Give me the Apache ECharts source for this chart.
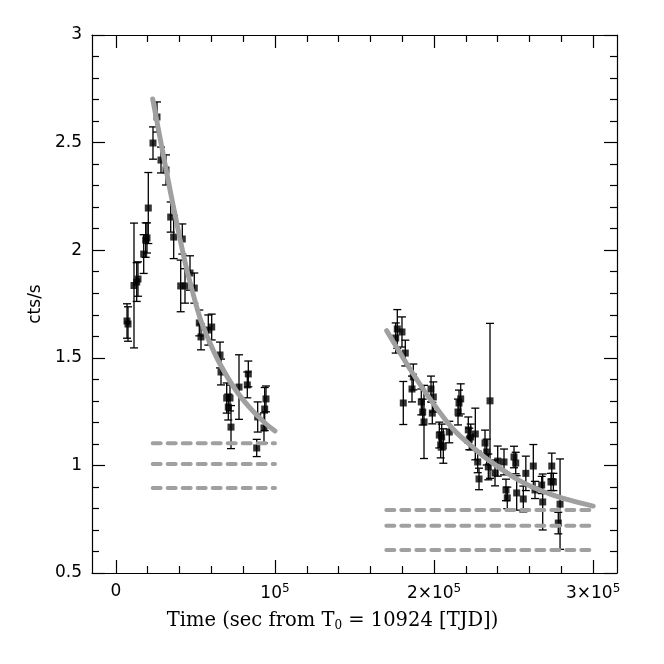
<!DOCTYPE html>
<html>
<head>
<meta charset="utf-8">
<script src="https://cdn.jsdelivr.net/npm/echarts@6/dist/echarts.min.js"></script>
<style>
html,body{margin:0;padding:0;background:#fff;}
#chart{width:664px;height:664px;}
</style>
</head>
<body>
<div id="chart"></div>
<script>
// Observed light-curve points: time (s from T0), rate (cts/s), 1-sigma error
const obsTime = [7000, 7630, 11400, 13100, 13900, 17500, 18750, 19570, 20390, 23340, 25860, 28370, 31510, 34470, 36350, 41760, 40750, 43460, 46600, 49300, 52450, 53510, 58100, 60240, 65460, 66090, 69670, 71740, 70670, 72370, 77400, 83250, 82620, 89150, 88530, 93110, 93550, 94370,
  175900, 176900, 179850, 180670, 181930, 186140, 186960, 191990, 192870, 193690, 198090, 199540, 198910, 203310, 204820, 204180, 205820, 209590, 215690, 216760, 215060, 221540, 223050, 222170, 225940, 235180, 232040, 233110, 227450, 228270, 234110, 238320, 240020, 243980, 250270, 251340, 245230, 246040, 251950, 256100, 257700, 262400, 263460, 267670, 268300, 274000, 273500, 275000, 279200, 278100];
const obsRate = [1.671, 1.657, 1.836, 1.852, 1.866, 1.982, 2.047, 2.057, 2.196, 2.498, 2.619, 2.419, 2.373, 2.154, 2.061, 2.052, 1.834, 1.834, 1.894, 1.824, 1.662, 1.597, 1.629, 1.643, 1.513, 1.434, 1.313, 1.313, 1.271, 1.178, 1.364, 1.425, 1.374, 1.225, 1.081, 1.174, 1.262, 1.309,
  1.592, 1.634, 1.620, 1.290, 1.522, 1.355, 1.411, 1.295, 1.248, 1.202, 1.355, 1.318, 1.243, 1.141, 1.132, 1.095, 1.090, 1.155, 1.290, 1.309, 1.248, 1.165, 1.132, 1.123, 1.146, 1.300, 1.104, 1.062, 1.016, 0.937, 0.993, 0.965, 1.020, 1.016, 1.039, 1.011, 0.886, 0.849, 0.872, 0.844, 0.963, 0.997, 0.886, 0.909, 0.830, 0.997, 0.923, 0.923, 0.820, 0.732];
const obsErr = [0.08, 0.08, 0.29, 0.09, 0.08, 0.09, 0.08, 0.07, 0.165, 0.075, 0.07, 0.06, 0.07, 0.07, 0.10, 0.07, 0.12, 0.08, 0.08, 0.07, 0.06, 0.06, 0.07, 0.06, 0.06, 0.06, 0.07, 0.06, 0.06, 0.10, 0.15, 0.06, 0.06, 0.07, 0.04, 0.07, 0.10, 0.06,
  0.07, 0.09, 0.07, 0.10, 0.06, 0.06, 0.06, 0.06, 0.06, 0.17, 0.06, 0.07, 0.05, 0.06, 0.06, 0.06, 0.08, 0.05, 0.06, 0.07, 0.06, 0.06, 0.06, 0.05, 0.12, 0.36, 0.06, 0.06, 0.05, 0.05, 0.06, 0.06, 0.07, 0.06, 0.05, 0.05, 0.05, 0.05, 0.08, 0.06, 0.08, 0.10, 0.04, 0.04, 0.13, 0.06, 0.04, 0.04, 0.21, 0.05];

// Fitted decay curves
const fit1Time = [23150, 27740, 34030, 40310, 44900, 52890, 59170, 65460, 74890, 84310, 93740, 100000];
const fit1Rate = [2.703, 2.523, 2.281, 2.053, 1.901, 1.685, 1.569, 1.471, 1.355, 1.267, 1.197, 1.160];
const fit2Time = [170240, 184890, 197460, 211910, 225740, 235170, 254030, 274770, 300000];
const fit2Rate = [1.626, 1.448, 1.309, 1.169, 1.076, 1.020, 0.928, 0.862, 0.811];

// Background levels (dashed)
const bg1Levels = [1.103, 1.006, 0.895];
const bg1Span = [23150, 100000];
const bg2Levels = [0.793, 0.720, 0.607];
const bg2Span = [170000, 300000];

// Axis ticks
const xMajorTicks = [0, 100000, 200000, 300000];
const xMinorTicks = [20000, 40000, 60000, 80000, 120000, 140000, 160000, 180000, 220000, 240000, 260000, 280000];

const X_MIN = -15000, X_MAX = 315000;
const GRAY = '#a0a0a0';

const chart = echarts.init(document.getElementById('chart'), null, {renderer: 'canvas'});

function xAxisCfg(position, ticks, len, showLine, labels) {
  return {
    type: 'value', min: X_MIN, max: X_MAX, position: position,
    axisLine: {show: showLine, onZero: false, lineStyle: {color: '#000', width: 1.2}},
    axisTick: {show: true, inside: true, length: len, customValues: ticks, lineStyle: {color: '#000', width: 1.2}},
    axisLabel: labels ? {
      show: true, customValues: xMajorTicks, margin: 10, color: '#000',
      fontFamily: 'DejaVu Sans', fontSize: 17,
      formatter: function (v) {
        if (v === 0) return '0';
        if (v === 100000) return '10{sup|5}';
        return (v / 100000) + '×10{sup|5}';
      },
      rich: {sup: {fontFamily: 'DejaVu Sans', fontSize: 12, color: '#000', padding: [0, 0, 9, 0]}}
    } : {show: false},
    splitLine: {show: false}
  };
}
function yAxisCfg(position, labels) {
  return {
    type: 'value', min: 0.5, max: 3, interval: 0.5, position: position,
    axisLine: {show: true, onZero: false, lineStyle: {color: '#000', width: 1.2}},
    axisTick: {show: true, inside: true, length: 13, lineStyle: {color: '#000', width: 1.2}},
    minorTick: {show: true, splitNumber: 5, length: 7, lineStyle: {color: '#000', width: 1.2}},
    axisLabel: labels ? {show: true, margin: 10, color: '#000', fontFamily: 'DejaVu Sans', fontSize: 17,
      formatter: function (v) { return String(v); }} : {show: false},
    splitLine: {show: false}
  };
}

const xAxes = [
  Object.assign(xAxisCfg('bottom', xMajorTicks, 13, true, true), {
    name: 'Time (sec from T{sub|0} = 10924 [TJD])', nameLocation: 'middle', nameGap: 37,
    nameTextStyle: {color: '#000', fontFamily: 'DejaVu Serif', fontSize: 19.5, padding: [0, 44, 0, 0],
      rich: {sub: {fontFamily: 'DejaVu Serif', fontSize: 12, color: '#000', padding: [10, 0, 0, 0]}}}
  }),
  xAxisCfg('bottom', xMinorTicks, 7, false, false),
  xAxisCfg('top', xMajorTicks, 13, true, false),
  xAxisCfg('top', xMinorTicks, 7, false, false)
];
const yAxes = [
  Object.assign(yAxisCfg('left', true), {
    name: 'cts/s', nameLocation: 'middle', nameGap: 41,
    nameTextStyle: {color: '#000', fontFamily: 'DejaVu Sans', fontSize: 17}
  }),
  yAxisCfg('right', false)
];

const obsData = obsTime.map((t, i) => [t, obsRate[i], obsErr[i]]);

const series = [
  {
    type: 'custom', name: 'errors', xAxisIndex: 0, yAxisIndex: 0, z: 2,
    data: obsData,
    renderItem: function (params, api) {
      const x = api.value(0), y = api.value(1), e = api.value(2);
      const top = api.coord([x, y + e]);
      const bot = api.coord([x, y - e]);
      const hw = 4;
      const st = {stroke: '#000', lineWidth: 1.3};
      return {type: 'group', children: [
        {type: 'line', shape: {x1: top[0], y1: top[1], x2: bot[0], y2: bot[1]}, style: st},
        {type: 'line', shape: {x1: top[0] - hw, y1: top[1], x2: top[0] + hw, y2: top[1]}, style: st},
        {type: 'line', shape: {x1: bot[0] - hw, y1: bot[1], x2: bot[0] + hw, y2: bot[1]}, style: st}
      ]};
    }
  },
  {
    type: 'scatter', name: 'points', xAxisIndex: 0, yAxisIndex: 0, z: 3,
    symbol: 'rect', symbolSize: 7, itemStyle: {color: '#000'},
    data: obsTime.map((t, i) => [t, obsRate[i]]), silent: true
  },
  {
    type: 'line', name: 'fit1', smooth: 0.3, showSymbol: false, z: 4,
    lineStyle: {color: GRAY, width: 5, cap: 'round'},
    data: fit1Time.map((t, i) => [t, fit1Rate[i]])
  },
  {
    type: 'line', name: 'fit2', smooth: 0.3, showSymbol: false, z: 4,
    lineStyle: {color: GRAY, width: 5, cap: 'round'},
    data: fit2Time.map((t, i) => [t, fit2Rate[i]])
  }
];
bg1Levels.forEach(function (lv) {
  series.push({type: 'line', showSymbol: false, z: 4,
    lineStyle: {color: GRAY, width: 4, type: [8, 7], cap: 'round'},
    data: [[bg1Span[0], lv], [bg1Span[1], lv]]});
});
bg2Levels.forEach(function (lv) {
  series.push({type: 'line', showSymbol: false, z: 4,
    lineStyle: {color: GRAY, width: 4, type: [8, 7], cap: 'round'},
    data: [[bg2Span[0], lv], [bg2Span[1], lv]]});
});

chart.setOption({
  animation: false,
  backgroundColor: '#fff',
  grid: {left: 92, right: 47, top: 35, bottom: 91, containLabel: false},
  xAxis: xAxes,
  yAxis: yAxes,
  series: series
});
</script>
</body>
</html>
